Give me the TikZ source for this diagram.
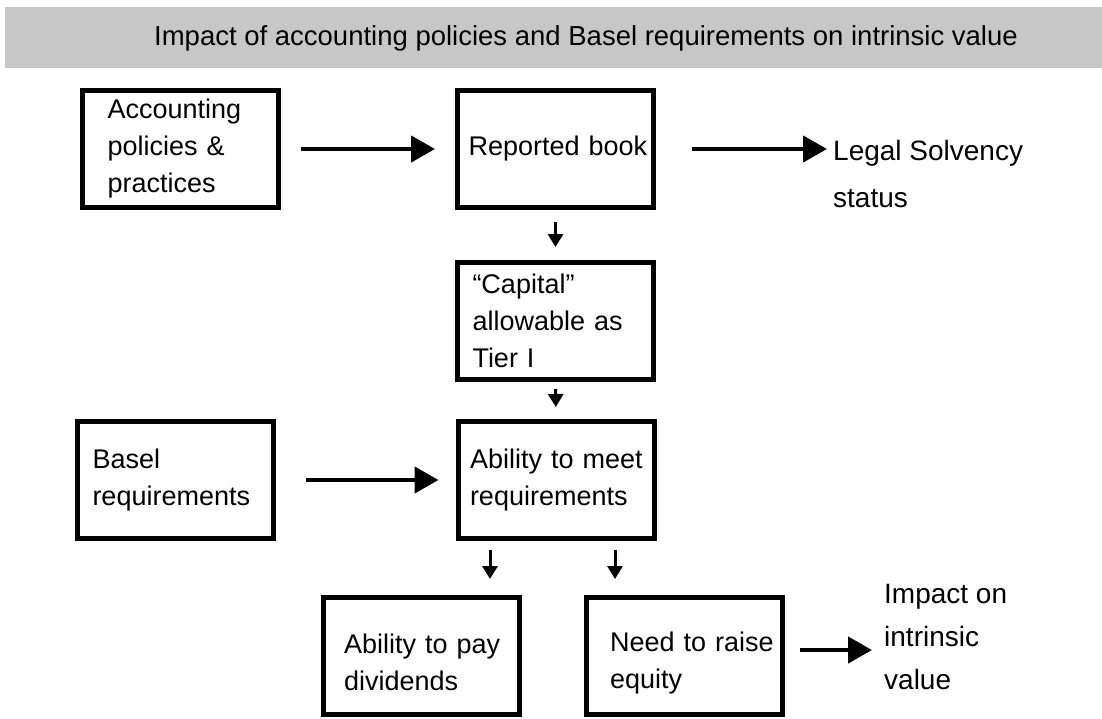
\documentclass[tikz,border=0pt]{standalone}
\usepackage{fontspec}
\setmainfont{Liberation Sans}
\usetikzlibrary{arrows.meta}
\begin{document}
\begin{tikzpicture}[x=1pt,y=1pt,
  box/.style={draw=black, line width=5pt, fill=white, minimum width=196pt, minimum height=117pt,
    text width=182pt, align=left, inner xsep=7pt, font=\fontsize{27}{37}\selectfont},
  lbl/.style={align=left, inner sep=0pt, font=\fontsize{28}{47}\selectfont},
  bigarrow/.style={line width=4.5pt, -{Triangle[length=24pt,width=26pt]}},
  smallarrow/.style={line width=3pt, -{Triangle[length=13pt,width=15pt]}}]
\useasboundingbox (0,0) rectangle (1102,-718);
\fill[white] (0,0) rectangle (1102,-718);
% title bar
\fill[black!22] (5,-7) rectangle (1102,-68);
\node[font=\fontsize{27.5}{30}\selectfont, inner sep=0pt] (title) at (586,-38)
  {Impact of accounting policies and Basel requirements on intrinsic value};
% boxes
\node[box] (acc) at (180.5,-149) {\hspace*{18pt}Accounting\\\hspace*{18pt}policies \&\\\hspace*{18pt}practices};
\node[box] (rb) at (555.5,-149) {\hspace*{4pt}\mbox{Reported book}};
\node[box] (cap) at (555.5,-321) {\hspace*{8pt}“Capital”\\\hspace*{8pt}allowable as\\\hspace*{8pt}Tier I};
\node[box] (meet) at (556,-480) {\hspace*{5pt}Ability to meet\\\hspace*{5pt}requirements\\[10pt]};
\node[box] (basel) at (175.5,-480) {\hspace*{8pt}Basel\\\hspace*{8pt}requirements\\[10pt]};
\node[box] (pay) at (421,-656) {\\[-4pt]\hspace*{14pt}Ability to pay\\\hspace*{14pt}dividends};
\node[box] (need) at (684,-656) {\\[-4pt]\hspace*{17pt}Need to raise\\\hspace*{17pt}equity\\[12pt]};
% free labels
\node[lbl, anchor=north west] (legal) at (833,-140) {Legal Solvency\\status};
\node[lbl, anchor=north west, font=\fontsize{28}{43}\selectfont] (impact) at (884,-584) {Impact on\\intrinsic\\value};
% big arrows
\draw[bigarrow, shorten <=20pt, shorten >=20pt] (acc.east) -- (rb.west);
\draw[bigarrow, shorten <=36pt, shorten >=6pt] (rb.east) -- (rb.east -| legal.west);
\draw[bigarrow, shorten <=30pt, shorten >=17pt] (basel.east) -- (meet.west);
\draw[bigarrow, shorten <=15pt, shorten >=12pt] ([yshift=6pt]need.east) -- ([yshift=6pt]need.east -| impact.west);
% small arrows
\draw[smallarrow, shorten <=12pt, shorten >=13pt] (rb.south) -- (cap.north);
\draw[smallarrow, shorten <=7pt, shorten >=12pt] (cap.south) -- (meet.north);
\coordinate (d1) at (490,-595);
\coordinate (d2) at (615,-595);
\draw[smallarrow, shorten <=9pt, shorten >=16pt] (meet.south -| d1) -- (d1);
\draw[smallarrow, shorten <=9pt, shorten >=16pt] (meet.south -| d2) -- (d2);
\end{tikzpicture}
\end{document}
